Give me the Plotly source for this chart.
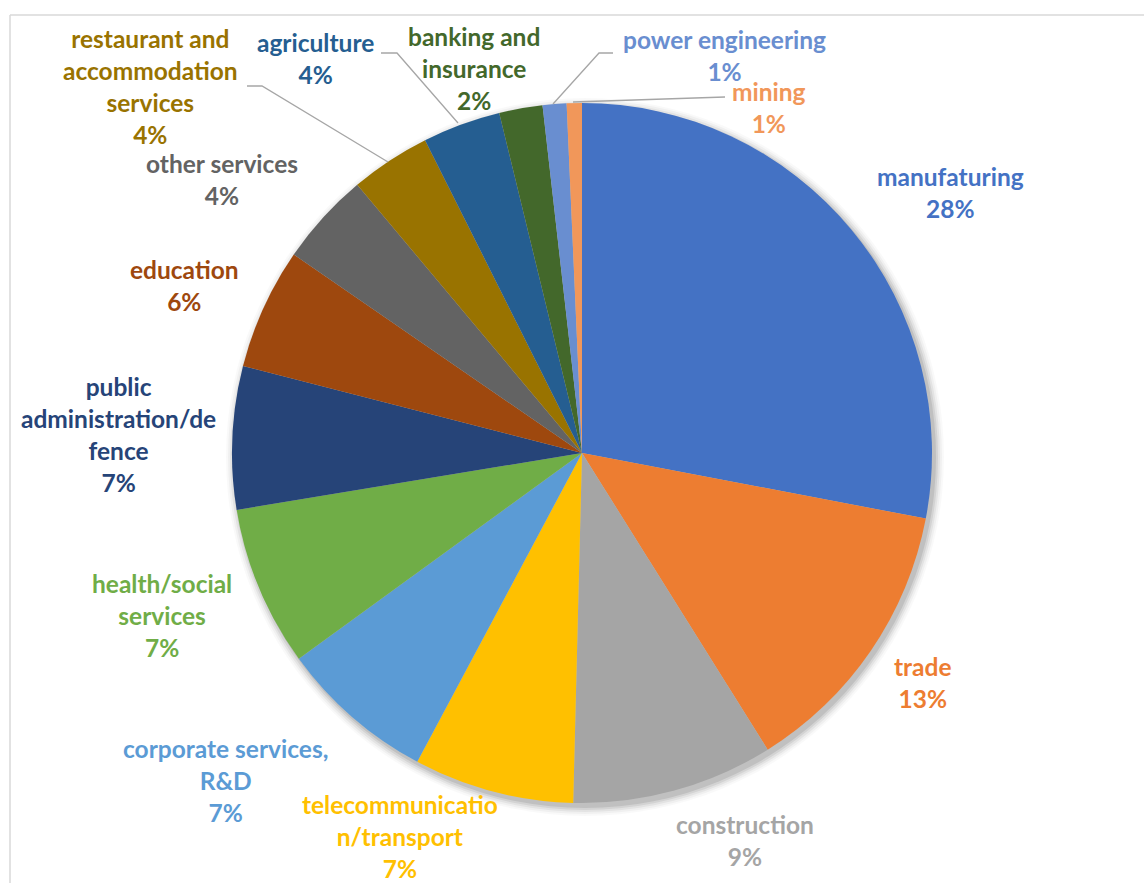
import plotly.graph_objects as go

# Employment structure by sector (share of total)
categories = [
    "manufaturing", "trade", "construction", "telecommunicatio\nn/transport",
    "corporate services,\nR&D", "health/social\nservices",
    "public\nadministration/de\nfence", "education", "other services",
    "restaurant and\naccommodation\nservices", "agriculture",
    "banking and\ninsurance", "power engineering", "mining",
]
shares = [28.0, 13.1, 9.3, 7.4, 7.2, 7.4, 6.6, 5.6, 4.3, 3.7, 3.6, 2.0, 1.1, 0.7]
colors = [
    "#4472C4", "#ED7D31", "#A5A5A5", "#FFC000", "#5B9BD5", "#70AD47",
    "#264478", "#9E480E", "#636363", "#997300", "#255E91", "#43682B",
    "#698ED0", "#F1975A",
]

W, H = 1144, 883
CX, CY, R = 582, 453, 350


def px(x):
    return x / W


def py(y):
    return 1 - y / H


# label centres in pixels (x, y)
label_pos = [
    (950, 192), (923, 682), (745, 840), (400, 836), (225, 780), (162, 615),
    (118, 434), (184, 285), (222, 180), (150, 87), (315, 59), (474, 68),
    (724, 55), (769, 107),
]

# leader lines in pixels
leaders = [
    [(247, 86), (262, 86), (388, 162)],
    [(381, 53), (397, 53), (458, 123)],
    [(613, 53), (599, 53), (553, 104)],
    [(725, 97), (573, 102)],
]

fig = go.Figure()
fig.add_trace(go.Pie(
    labels=[c.replace("\n", " ") for c in categories],
    values=shares,
    sort=False,
    direction="clockwise",
    rotation=0,
    marker=dict(colors=colors, line=dict(width=0)),
    textinfo="none",
    hoverinfo="label+percent",
    showlegend=False,
    domain=dict(x=[px(CX - R), px(CX + R)], y=[py(CY + R), py(CY - R)]),
))

shapes = []
# soft drop shadow under the pie
for k, a in [(9, 0.025), (7, 0.035), (5, 0.05), (3, 0.07), (1, 0.09)]:
    sx, sy = CX + 3, CY + 4
    shapes.append(dict(
        type="circle", xref="paper", yref="paper", layer="below",
        x0=px(sx - R - k), x1=px(sx + R + k), y0=py(sy + R + k), y1=py(sy - R - k),
        fillcolor=f"rgba(0,0,0,{a})", line=dict(width=0),
    ))

# chart frame
shapes.append(dict(type="line", xref="paper", yref="paper", x0=px(10), x1=px(W + 5),
                   y0=py(15), y1=py(15), line=dict(color="#d9d9d9", width=1.5)))
shapes.append(dict(type="line", xref="paper", yref="paper", x0=px(10), x1=px(10),
                   y0=py(15), y1=py(H + 5), line=dict(color="#d9d9d9", width=1.5)))

for pts in leaders:
    path = "M " + " L ".join(f"{px(x)},{py(y)}" for x, y in pts)
    shapes.append(dict(type="path", xref="paper", yref="paper", path=path,
                       line=dict(color="#a6a6a6", width=1.3)))

total = sum(shares)
annotations = []
for name, v, col, (lx, ly) in zip(categories, shares, colors, label_pos):
    text = name.replace("\n", "<br>") + f"<br>{round(v / total * 100)}%"
    annotations.append(dict(
        x=px(lx), y=py(ly), xref="paper", yref="paper",
        xanchor="center", yanchor="middle", showarrow=False, align="center",
        text=text, font=dict(family="Lato", size=24.5, color=col, weight="bold"),
    ))

fig.update_layout(
    width=W, height=H, margin=dict(l=0, r=0, t=0, b=0),
    paper_bgcolor="white", plot_bgcolor="white",
    shapes=shapes, annotations=annotations,
)

fig.write_html("out.html")
